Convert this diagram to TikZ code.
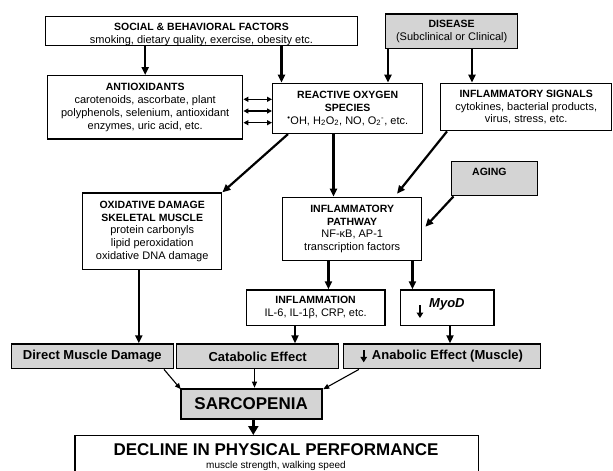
\documentclass[tikz,border=0pt]{standalone}
\usepackage{fontspec}
\setmainfont{Liberation Sans}
\usetikzlibrary{arrows.meta,calc}
\definecolor{boxgray}{RGB}{212,212,212}
\newcommand{\ttl}[1]{{\bfseries\fontsize{10.5}{12.8}\selectfont #1}}
\newcommand{\dnarrow}[2]{\tikz[baseline=0pt]\draw[line width=1.8pt,-{Triangle[length=5.5pt,width=6.5pt]}] (0pt,#1) -- (0pt,#2);}
\tikzset{
  box/.style={draw=black, line width=1.4pt, fill=white, anchor=north west, align=center,
    inner sep=0pt, font=\fontsize{11}{12.8}\selectfont},
  gbox/.style={box, fill=boxgray},
  arr/.style={line width=2.2pt, -{Triangle[length=8pt,width=7pt]}},
  thinarr/.style={line width=1.1pt, -{Triangle[length=6pt,width=5pt]}},
  dblarr/.style={line width=1.4pt, {Triangle[length=5pt,width=5pt]}-{Triangle[length=5pt,width=5pt]}},
  bigarr/.style={line width=2.6pt, -{Triangle[length=9pt,width=10pt]}},
  lbl/.style={inner sep=0pt},
}
\begin{document}
\begin{tikzpicture}[x=1pt,y=-1pt]
\useasboundingbox (0,0) rectangle (613,471);
% boxes
\node[box, minimum width=311.5, minimum height=28.6] (social) at (45,15.7)
  {\rule{0pt}{14pt}\ttl{SOCIAL \& BEHAVIORAL FACTORS}\\ smoking, dietary quality, exercise, obesity etc.};
\node[gbox, minimum width=132, minimum height=34.4] (disease) at (385,13.3)
  {\ttl{DISEASE}\\ (Subclinical or Clinical)};
\node[box, minimum width=195, minimum height=63.3] (anti) at (47,75)
  {\ttl{ANTIOXIDANTS}\\ carotenoids, ascorbate, plant\\ polyphenols, selenium, antioxidant\\ enzymes, uric acid, etc.};
\node[box, minimum width=150, minimum height=50] (ros) at (272,82.7)
  {\ttl{REACTIVE OXYGEN}\\ \ttl{SPECIES}\\ \textsuperscript{•}OH, H\textsubscript{2}O\textsubscript{2}, NO, O\textsubscript{2}\textsuperscript{-}, etc.};
\node[box, minimum width=171, minimum height=47.3] (sig) at (440,82.7)
  {\ttl{INFLAMMATORY SIGNALS}\\ cytokines, bacterial products,\\ virus, stress, etc.};
\node[box, minimum width=139, minimum height=76.7] (oxid) at (82,192.3)
  {\ttl{OXIDATIVE DAMAGE}\\ \ttl{SKELETAL MUSCLE}\\ protein carbonyls\\ lipid peroxidation\\ oxidative DNA damage};
\node[gbox, minimum width=86.1, minimum height=34.3] (aging) at (450.7,160.7) {};
\node[lbl] (agingtext) at ($(aging.north)+(-5,11)$) {\ttl{AGING}};
\node[box, minimum width=139, minimum height=63.3] (path) at (282,196.7)
  {\ttl{INFLAMMATORY}\\ \ttl{PATHWAY}\\ NF-κB, AP-1\\ transcription factors};
\node[box, minimum width=138.8, minimum height=35.7] (infl) at (245.5,289.3)
  {\ttl{INFLAMMATION}\\ IL-6, IL-1β, CRP, etc.};
\node[box, minimum width=93.4, minimum height=35.7] (myod) at (400,289.3) {};
\node[lbl, anchor=base west] (myodtext) at ($(myod.north west)+(16.5,18.3)$)
  {\dnarrow{2.6pt}{-10.4pt}\hspace{6pt}{\bfseries\itshape\fontsize{13}{14}\selectfont MyoD}};
\node[gbox, minimum width=162.3, minimum height=24.7, font=\bfseries\fontsize{13}{14}\selectfont] (direct) at (10.5,343.3)
  {Direct Muscle Damage};
\node[gbox, minimum width=162, minimum height=24.7, font=\bfseries\fontsize{13}{14}\selectfont] (cat) at (176,343.3)
  {Catabolic Effect};
\node[gbox, minimum width=197, minimum height=24.7, font=\bfseries\fontsize{13}{14}\selectfont] (anab) at (342.5,343.3)
  {\dnarrow{9.5pt}{-2.5pt}\hspace{5pt}Anabolic Effect (Muscle)};
\node[gbox, line width=1.9pt, minimum width=140.8, minimum height=30.6, font=\bfseries\fontsize{17}{18}\selectfont] (sarco) at (179.8,387.7)
  {SARCOPENIA};
\node[box, minimum width=403.4, minimum height=45] (decline) at (74.3,435) {};
\node[lbl] (dectitle) at (276,450) {\bfseries\fontsize{17}{18}\selectfont DECLINE IN PHYSICAL PERFORMANCE};
\node[lbl] (decsub) at (276,465.7) {\fontsize{10}{12}\selectfont muscle strength, walking speed};
% connectors
\draw[arr] (social.south -| anti.north) -- (anti.north);
\coordinate (r1) at ([xshift=9.5pt]ros.north west);
\draw[arr] (social.south -| r1) -- (r1);
\coordinate (d1) at ([xshift=3pt]disease.south west);
\draw[arr] (d1) -- (d1 |- ros.north);
\coordinate (d2) at ([xshift=87pt]disease.south west);
\draw[arr] (d2) -- (d2 |- sig.north);
\foreach \dy/\nm in {24.3/a1,36/a2,47.7/a3}{
  \coordinate (\nm) at ([yshift=-\dy pt]anti.north east);
  \draw[dblarr] (\nm) -- (\nm -| ros.west);
}
\draw[arr] ([xshift=16pt]ros.south west) -- (oxid.north east);
\coordinate (r2) at ([xshift=61.5pt]ros.south west);
\draw[arr] (r2) -- (r2 |- path.north);
\draw[arr] ([xshift=7pt]sig.south west) -- ([xshift=115pt,yshift=3pt]path.north west);
\draw[arr] ([xshift=2.8pt]aging.south west) -- ([xshift=3pt,yshift=-30pt]path.north east);
\coordinate (p1) at ([xshift=46.4pt]path.south west);
\draw[arr] (p1) -- (p1 |- infl.north);
\coordinate (p2) at ([xshift=130.4pt]path.south west);
\draw[arr] (p2) -- (p2 |- myod.north);
\coordinate (o1) at ([xshift=56.8pt]oxid.south west);
\draw[arr] (o1) -- (o1 |- direct.north);
\coordinate (i1) at ([xshift=49.5pt]infl.south west);
\draw[arr] (i1) -- (i1 |- cat.north);
\coordinate (m1) at ([xshift=50pt]myod.south west);
\draw[arr] (m1) -- (m1 |- anab.north);
\draw[thinarr] ([xshift=153.5pt]direct.south west) -- ([xshift=1pt,yshift=-1.5pt]sarco.north west);
\coordinate (c1) at ([xshift=78.5pt]cat.south west);
\draw[thinarr] (c1) -- (c1 |- sarco.north);
\draw[thinarr] ([xshift=16.4pt]anab.south west) -- ([xshift=0.7pt,yshift=-1.5pt]sarco.north east);
\coordinate (s1) at ([xshift=73.5pt]sarco.south west);
\draw[bigarr] (s1) -- (s1 |- decline.north);
\end{tikzpicture}
\end{document}
